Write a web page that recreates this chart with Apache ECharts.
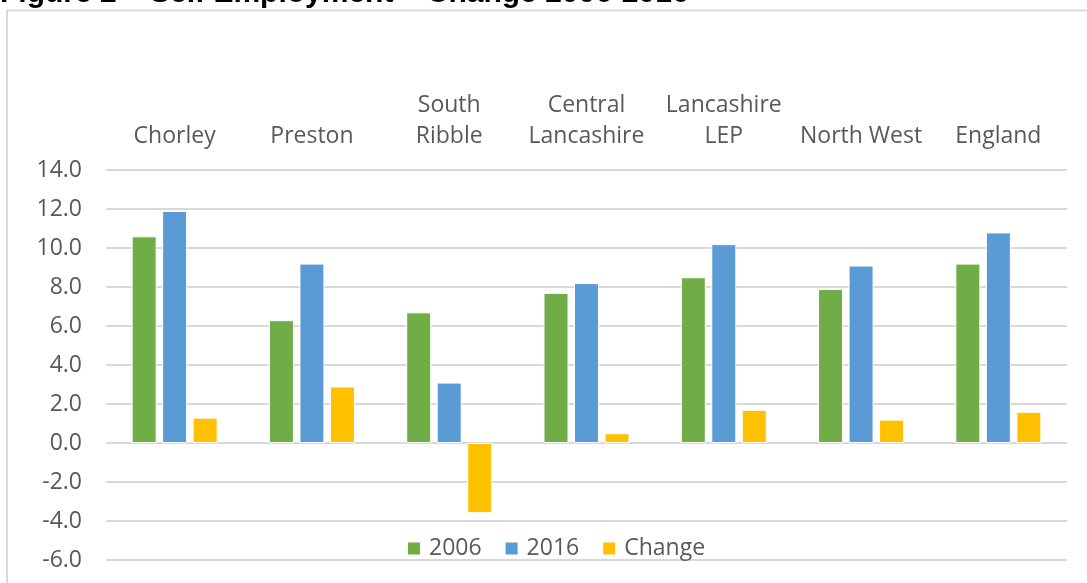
<!DOCTYPE html>
<html>
<head>
<meta charset="utf-8">
<script src="https://cdn.jsdelivr.net/npm/echarts@6/dist/echarts.min.js"></script>
<style>html,body{margin:0;padding:0;background:#fff;}#chart{width:1087px;height:583px;}</style>
</head>
<body>
<div id="chart"></div>
<script>
const categories = ['Chorley', 'Preston', 'South\nRibble', 'Central\nLancashire', 'Lancashire\nLEP', 'North West', 'England'];
const values2006 = [10.6, 6.3, 6.7, 7.7, 8.5, 7.9, 9.2];
const values2016 = [11.9, 9.2, 3.1, 8.2, 10.2, 9.1, 10.8];
const valuesChange = [1.3, 2.9, -3.6, 0.5, 1.7, 1.2, 1.6];
const seriesNames = ['2006', '2016', 'Change'];
const titleText = 'Figure 2 \u2013 Self Employment \u2013 Change 2006-2016';

const FONT = '"Open Sans", "Noto Sans", sans-serif';
const chart = echarts.init(document.getElementById('chart'));
const barStyle = (c) => ({ color: c, borderColor: '#ffffff', borderWidth: 1 });
chart.setOption({
  animation: false,
  graphic: [
    { type: 'rect', shape: { x: 7, y: 10.5, width: 1200, height: 700 }, style: { fill: 'none', stroke: '#d9d9d9', lineWidth: 2 }, silent: true },
    { type: 'text', style: { text: titleText, x: 0, y: 8.5, font: 'bold 30px "Liberation Sans", Arial, sans-serif', fill: '#000', verticalAlign: 'bottom' }, silent: true }
  ],
  grid: { left: 106, right: 20, top: 170, bottom: 23, containLabel: false },
  legend: {
    data: seriesNames,
    left: 401, top: 532,
    icon: 'rect', itemWidth: 14, itemHeight: 14, itemGap: 22,
    textStyle: { fontFamily: FONT, fontSize: 23, color: '#595959', padding: [0, 0, 0, 3] }
  },
  xAxis: {
    type: 'category', data: categories, position: 'top',
    axisLine: { show: false }, axisTick: { show: false },
    axisLabel: { fontFamily: FONT, fontSize: 23, color: '#595959', lineHeight: 31, margin: 18, interval: 0 }
  },
  yAxis: {
    type: 'value', min: -6, max: 14, interval: 2,
    axisLine: { show: false }, axisTick: { show: false },
    axisLabel: { fontFamily: FONT, fontSize: 23, color: '#595959', margin: 24, formatter: (v) => v.toFixed(1) },
    splitLine: { lineStyle: { color: '#d9d9d9', width: 2 } }
  },
  series: [
    { name: seriesNames[0], type: 'bar', data: values2006, barWidth: 25, barGap: '22%', itemStyle: barStyle('#70AD47') },
    { name: seriesNames[1], type: 'bar', data: values2016, barWidth: 25, barGap: '22%', itemStyle: barStyle('#5B9BD5') },
    { name: seriesNames[2], type: 'bar', data: valuesChange, barWidth: 25, barGap: '22%', itemStyle: barStyle('#FFC000') }
  ]
});
</script>
</body>
</html>
